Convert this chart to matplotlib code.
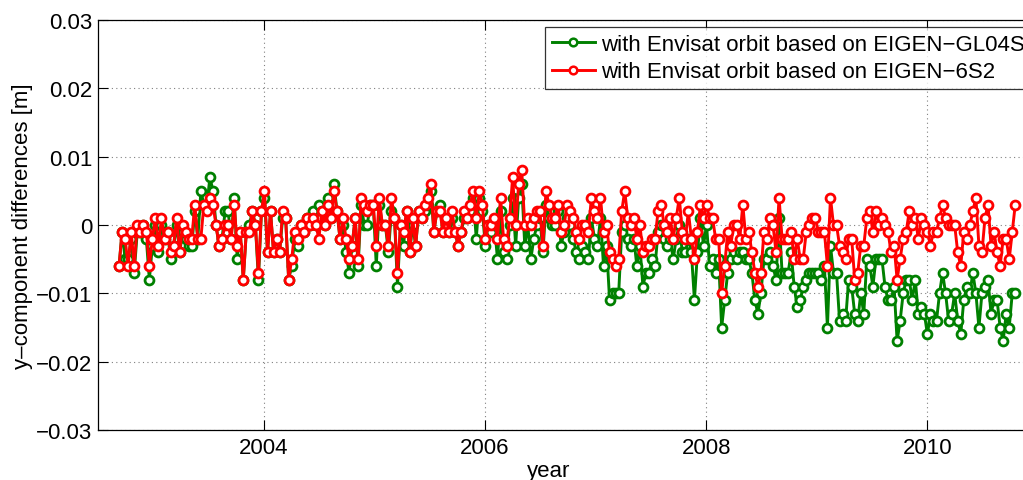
import numpy as np
import pandas as pd
import matplotlib
matplotlib.use("Agg")
import matplotlib.pyplot as plt

plt.rcParams['font.family'] = ['Liberation Sans', 'DejaVu Sans']

# 10-day solutions, y-component differences in millimetres
first_epoch = "2002-09-10"
step = "10D"

diff_gl04s_mm = [
    # 2002.7 - 2003.9
    -6, -1, -5, -5, -2, -7, -1, -1, 0, -2,
    -8, -3, 0, -4, 0, -2, -1, -5, -3, 0,
    -4, -1, -2, -3, -3, 2, -2, 5, 3, 3,
    7, 5, 0, -3, -2, 2, 2, -2, 4, -5,
    -1, -8, -1, 0, 2, 0, -8, 2, 4, -4,
    2, -4, -2, -4, 1, 1, -8, -6, -2, -3,
    0, -1, 1, 0, 2, 0, 3, 2, 0, 4,
    1, 6, 2, -2, 0, -4, -7, -3, 1, -6,
    3, 0, 0, 3, 3, -6, 3, 0, 0, -4,
    2, 1, -9, 0, -3, 2, -4, 0, -3, 2,
    # 2004.0 - 2008.0
    1, 2, 3, 5, -1, 2, 3, -1,
    0, -1, 1, -1, -3, -1, 1, 1, 2, 4,
    -2, 4, 2, -3, 0, -1, 0, -5, 2, -4,
    -5, 0, 4, -3, 4, 6, -3, 0, -5, -2,
    0, 1, -4, 3, 1, 0, 0, 2, -3, -1,
    1, 0, -2, -4, -5, -3, -4, -5, 1, -2,
    -3, 1, -6, -3, -11, -10, -10, -10, -1, 0,
    -2, -3, -2, -6, -3, -9, -7, -7, -5, -6,
    -1, 0, -2, -3, -2, -5, -2, 0, -4, -4,
    -2, -4, -11, -4, 1, -3, 0, -6, -5, -7,
    -5, -15, -11, -7,
    # 2008.0 - 2010.8
    -5, -4, -5, -4, -4, -5, -5, -7, -11, -13,
    -10, -5, -5, -4, -6, -8, 1, -7, -7, -7,
    -4, -9, -12, -11, -9, -8, -7, -7, -7, -7,
    -8, -6, -15, -3, -7, -7, -14, -13, -14, -8,
    -9, -13, -14, -10, -13, -5, -6, -9, -5, -5,
    -5, -9, -11, -11, -9, -17, -14, -10, -8, -8,
    -11, -8, -13, -12, -13, -16, -13, -14, -14, -10,
    -7, -10, -14, -13, -10, -14, -16, -11, -9, -10,
    -7, -10, -15, -10, -9, -8, -13, -11, -11, -15,
    -17, -13, -15, -10, -10,
]

diff_6s2_mm = [
    # 2002.7 - 2003.9
    -6, -1, -2, -6, -1, -6, 0, -1, 0, -1,
    -6, -2, 1, -3, 1, -2, -1, -4, -3, 1,
    -4, 0, -1, -2, -2, 3, -2, -2, 3, 2,
    4, 3, 0, -3, -2, 0, 0, -2, 3, -3,
    -1, -8, -1, -1, 2, 0, -7, 2, 5, -4,
    2, -4, -2, -4, 2, 1, -8, -5, -1, -2,
    0, -1, 1, 0, 1, 0, -2, 2, 0, 3,
    1, 5, 2, -2, 1, -2, -5, -3, 1, -5,
    4, 3, 2, 3, 3, -3, 4, 0, 0, -3,
    4, 1, -7, 0, -1, 2, -4, 1, -3, 2,
    # 2004.0 - 2008.0
    1, 3, 4, 6, -1, 2, 2, -1,
    1, -1, 2, -1, -3, -1, 2, 1, 3, 5,
    1, 5, 3, -2, 0, 0, 1, -2, 4, -2,
    -3, 1, 7, 0, 6, 8, 0, 1, 0, 1,
    2, 2, -3, 5, 3, 1, 1, 3, -1, 0,
    3, 2, 1, -1, -2, 0, 0, -1, 4, 2,
    1, 4, -1, 0, -4, -5, -6, -5, 2, 5,
    1, 0, 1, -2, 0, -4, -3, -3, -2, -2,
    2, 3, 0, -1, 1, -2, 1, 4, -1, -2,
    2, -2, -5, -1, 3, 1, 3, 1, 1, -2,
    -2, -10, -6, -1,
    # 2008.0 - 2010.8
    -3, 0, 0, -2, 3, -2, -1, -4, -7, -9,
    -7, -1, -2, 1, 0, -4, 4, -2, -2, -2,
    -1, -5, -2, -5, -5, -1, 0, 1, 1, -1,
    -1, -1, -6, 4, 0, 0, -3, -4, -5, -2,
    -2, -8, -7, -3, -3, 1, 2, -1, 2, 0,
    1, 0, -1, -4, -3, -8, -5, -2, -1, 2,
    0, 1, -2, 1, 0, -1, -3, -1, -1, 1,
    3, 1, 0, 0, 0, -4, -6, -1, -2, 0,
    2, 4, -3, -4, 1, 3, -3, -1, -4, -6,
    -2, -2, -5, -1, 3,
]

labels = ["with Envisat orbit based on EIGEN\u2212GL04S",
          "with Envisat orbit based on EIGEN\u22126S2"]
x_ticks = [2004, 2006, 2008, 2010]
y_ticks = [-0.03, -0.02, -0.01, 0, 0.01, 0.02, 0.03]
y_ticklabels = ["\u22120.03", "\u22120.02", "\u22120.01", "0", "0.01", "0.02", "0.03"]

n = len(diff_6s2_mm)
dates = pd.date_range(first_epoch, periods=n, freq=step)
years = dates.year + (dates.dayofyear - 1) / np.where(dates.is_leap_year, 366.0, 365.0)

gl04s = np.asarray(diff_gl04s_mm[:n]) / 1000.0
s62 = np.asarray(diff_6s2_mm) / 1000.0

W, H = 1023, 481
FS = 16
fig = plt.figure(figsize=(W / 100, H / 100), dpi=100)
ax = fig.add_axes([98 / W, (H - 431) / H, (1038 - 98) / W, (431 - 21) / H])

style = dict(linewidth=2.1, marker='o', markersize=6.4, markeredgewidth=2.0,
             markerfacecolor='white')
ax.plot(years[:len(gl04s)], gl04s, color='#008000', label=labels[0], **style)
ax.plot(years, s62, color='#ff0000', label=labels[1], **style)

ax.set_xlim(2002.5, 2011.0)
ax.set_ylim(-0.03, 0.03)
ax.set_xticks(x_ticks)
ax.set_yticks(y_ticks)
ax.set_yticklabels(y_ticklabels)
ax.tick_params(direction='in', length=7, width=0.8, labelsize=FS,
               top=True, right=True)
ax.tick_params(axis='y', pad=4)
ax.tick_params(axis='x', pad=5)
ax.grid(True, color='#808080', linestyle=(0, (1, 3)), linewidth=0.8)
for sp in ax.spines.values():
    sp.set_linewidth(0.9)

ax.set_xlabel("year", fontsize=FS)
ax.xaxis.set_label_coords((549 - 98) / (1038 - 98), -0.072)
ax.set_ylabel("y\u2013component differences [m]", fontsize=FS)
ax.yaxis.set_label_coords(-0.069, 0.5)

leg = ax.legend(loc='upper left', bbox_to_anchor=(545 / W, (H - 28) / H),
                bbox_transform=fig.transFigure, fontsize=FS, frameon=True,
                fancybox=False, handlelength=1.95, handletextpad=0.25,
                borderpad=0.3, labelspacing=0.3, borderaxespad=0)
leg.get_frame().set_edgecolor('black')
leg.get_frame().set_linewidth(0.9)
for h in leg.get_lines():
    h.set_markersize(5.5)
    h.set_markeredgewidth(1.8)

fig.savefig("out.png", dpi=100)
